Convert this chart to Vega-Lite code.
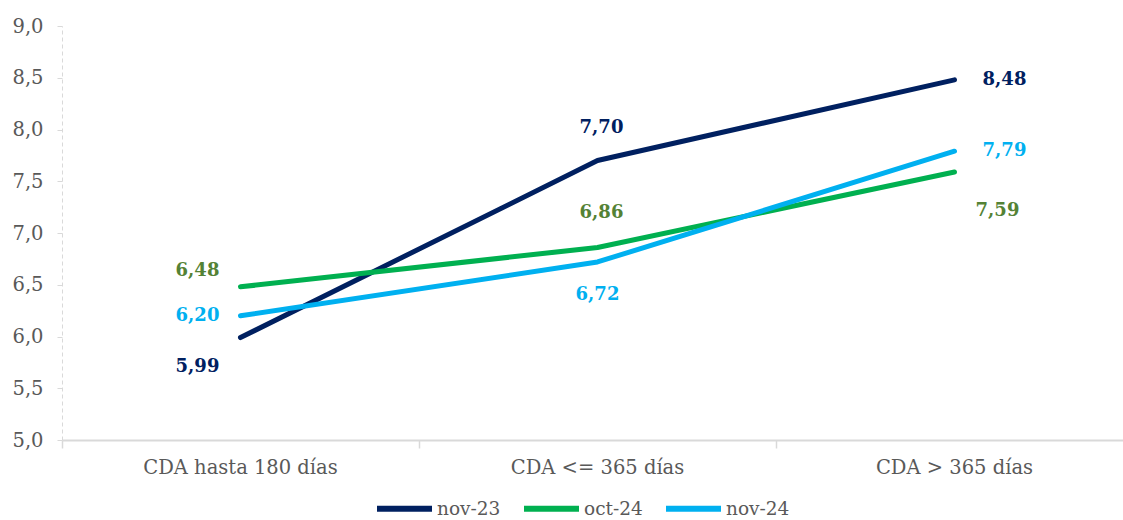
{
  "$schema": "https://vega.github.io/schema/vega-lite/v6.json",
  "autosize": "none",
  "padding": {"left": 62, "top": 26, "right": 0, "bottom": 80},
  "width": 1061,
  "height": 414,
  "background": "white",
  "config": {
    "locale": {"number": {"decimal": ",", "thousands": ".", "grouping": [3], "currency": ["", " €"]}},
    "view": {"stroke": null},
    "font": "DejaVu Serif"
  },
  "data": {
    "values": [
      {"cat": "CDA hasta 180 días", "serie": "nov-23", "v": 5.99},
      {"cat": "CDA <= 365 días", "serie": "nov-23", "v": 7.70},
      {"cat": "CDA > 365 días", "serie": "nov-23", "v": 8.48},
      {"cat": "CDA hasta 180 días", "serie": "oct-24", "v": 6.48},
      {"cat": "CDA <= 365 días", "serie": "oct-24", "v": 6.86},
      {"cat": "CDA > 365 días", "serie": "oct-24", "v": 7.59},
      {"cat": "CDA hasta 180 días", "serie": "nov-24", "v": 6.20},
      {"cat": "CDA <= 365 días", "serie": "nov-24", "v": 6.72},
      {"cat": "CDA > 365 días", "serie": "nov-24", "v": 7.79}
    ]
  },
  "encoding": {
    "x": {
      "field": "cat", "type": "nominal", "sort": null, "bandPosition": 0.5,
      "scale": {"type": "band", "paddingInner": 0, "paddingOuter": 0, "range": [0, 1071]},
      "axis": {
        "title": null, "labelAngle": 0, "bandPosition": 0, "domainColor": "#d9d9d9", "domainWidth": 2,
        "tickColor": "#d9d9d9", "tickSize": 8, "tickWidth": 1.5, "labelPadding": 10, "labelLimit": 0,
        "labelFontSize": 19.5, "labelColor": "#595959", "labelFont": "DejaVu Serif"
      }
    },
    "y": {
      "field": "v", "type": "quantitative",
      "scale": {"domain": [5, 9], "nice": false, "zero": false},
      "axis": {
        "title": null, "format": ".1f", "values": [5, 5.5, 6, 6.5, 7, 7.5, 8, 8.5, 9],
        "grid": false, "domainColor": "#d9d9d9", "domainDash": [4, 3], "domainWidth": 1,
        "tickColor": "#d9d9d9", "tickSize": 5, "labelPadding": 14,
        "labelFontSize": 19.5, "labelColor": "#595959", "labelFont": "DejaVu Serif"
      }
    }
  },
  "layer": [
    {
      "mark": {"type": "line", "strokeWidth": 5, "strokeCap": "round", "strokeJoin": "round"},
      "encoding": {
        "color": {
          "field": "serie", "type": "nominal",
          "scale": {"domain": ["nov-23", "oct-24", "nov-24"], "range": ["#002060", "#00B050", "#00B0F0"]},
          "legend": {
            "title": null, "orient": "none", "direction": "horizontal", "legendX": 312, "legendY": 452,
            "symbolType": "stroke", "symbolSize": 3025, "symbolStrokeWidth": 6,
            "labelFontSize": 18.5, "labelColor": "#595959", "labelFont": "DejaVu Serif",
            "labelOffset": 2, "columnPadding": 11
          }
        }
      }
    },
    {
      "transform": [{"filter": "datum.serie == 'nov-24' && datum.v == 6.20"}],
      "mark": {"type": "text", "dx": -43, "dy": 0, "fontSize": 18, "fontWeight": "bold", "color": "#00B0F0"},
      "encoding": {"text": {"field": "v", "format": ".2f"}}
    },
    {
      "transform": [{"filter": "datum.v == 8.48"}],
      "mark": {"type": "text", "dx": 50, "dy": 0, "fontSize": 18, "fontWeight": "bold", "color": "#002060"},
      "encoding": {"text": {"field": "v", "format": ".2f"}}
    },
    {
      "transform": [{"filter": "datum.v == 7.79"}],
      "mark": {"type": "text", "dx": 50, "dy": 0, "fontSize": 18, "fontWeight": "bold", "color": "#00B0F0"},
      "encoding": {"text": {"field": "v", "format": ".2f"}}
    },
    {
      "transform": [{"filter": "datum.v == 6.48"}],
      "mark": {"type": "text", "dx": -43, "dy": -16, "fontSize": 18, "fontWeight": "bold", "color": "#548235"},
      "encoding": {"text": {"field": "v", "format": ".2f"}}
    },
    {
      "transform": [{"filter": "datum.v == 5.99"}],
      "mark": {"type": "text", "dx": -43, "dy": 29, "fontSize": 18, "fontWeight": "bold", "color": "#002060"},
      "encoding": {"text": {"field": "v", "format": ".2f"}}
    },
    {
      "transform": [{"filter": "datum.v == 7.70"}],
      "mark": {"type": "text", "dx": 4, "dy": -33, "fontSize": 18, "fontWeight": "bold", "color": "#002060"},
      "encoding": {"text": {"field": "v", "format": ".2f"}}
    },
    {
      "transform": [{"filter": "datum.v == 6.86"}],
      "mark": {"type": "text", "dx": 4, "dy": -34, "fontSize": 18, "fontWeight": "bold", "color": "#548235"},
      "encoding": {"text": {"field": "v", "format": ".2f"}}
    },
    {
      "transform": [{"filter": "datum.v == 6.72"}],
      "mark": {"type": "text", "dx": 0, "dy": 33, "fontSize": 18, "fontWeight": "bold", "color": "#00B0F0"},
      "encoding": {"text": {"field": "v", "format": ".2f"}}
    },
    {
      "transform": [{"filter": "datum.v == 7.59"}],
      "mark": {"type": "text", "dx": 43, "dy": 39, "fontSize": 18, "fontWeight": "bold", "color": "#548235"},
      "encoding": {"text": {"field": "v", "format": ".2f"}}
    }
  ]
}
